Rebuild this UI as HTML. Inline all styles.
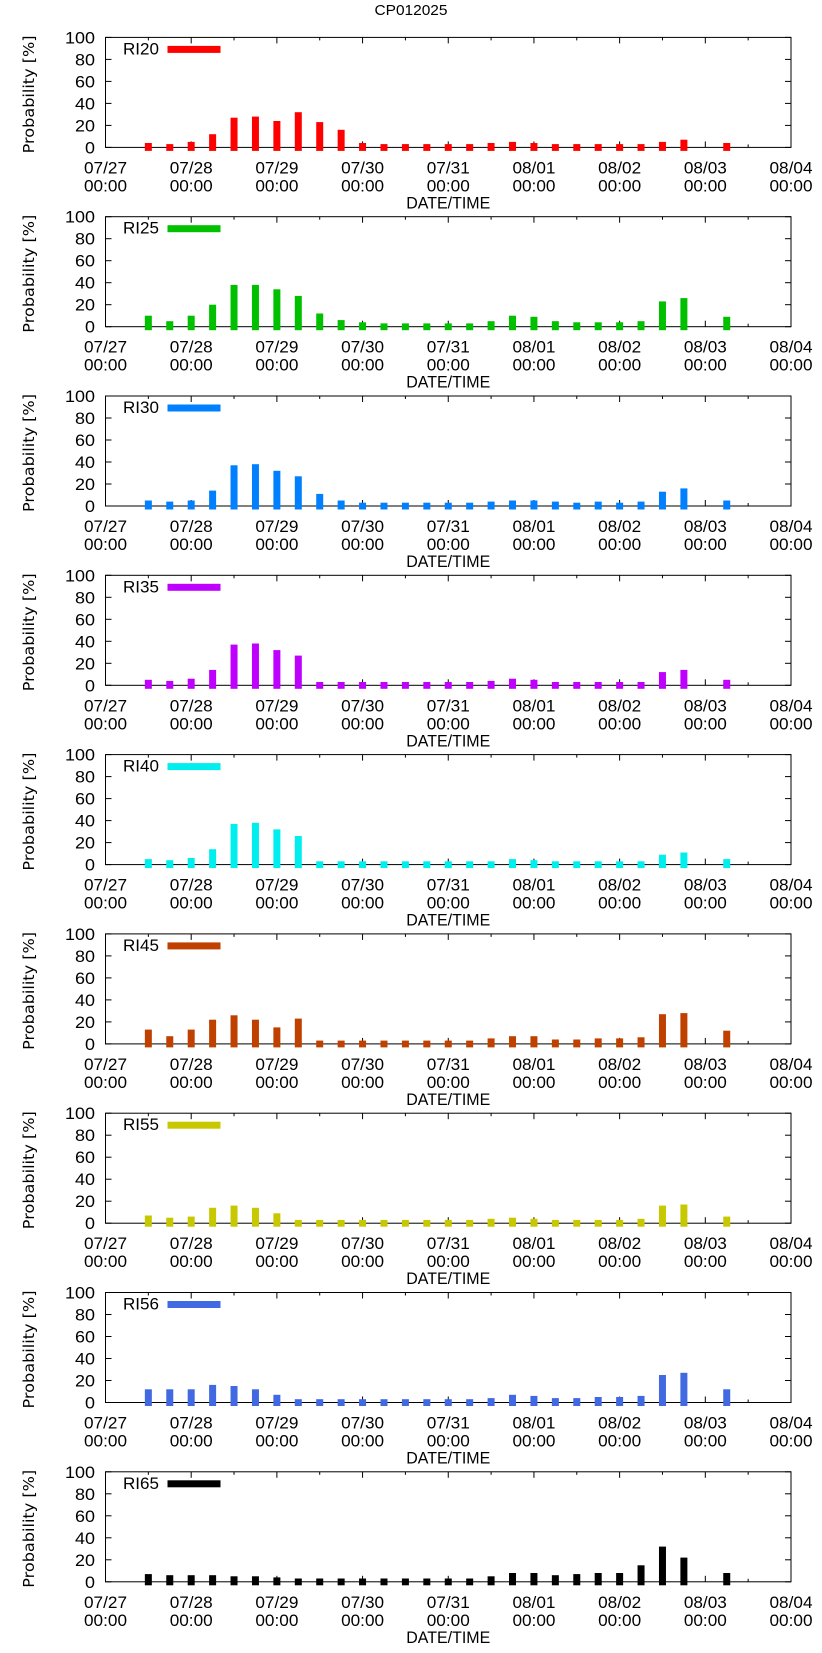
<!DOCTYPE html>
<html><head><meta charset="utf-8">
<style>
html,body{margin:0;padding:0;background:#fff;}
svg{display:block;}
text{font-family:"Liberation Sans Narrow","Liberation Sans",sans-serif;fill:#000;}
</style></head>
<body>
<svg id="chart" width="822" height="1653" viewBox="0 0 822 1653" xmlns="http://www.w3.org/2000/svg">
<text x="411" y="15" text-anchor="middle" font-size="15" textLength="73" lengthAdjust="spacingAndGlyphs">CP012025</text>
</svg>
<script>
// hours since 07/27 00:00 for each bar
const barHours = [12,18,24,30,36,42,48,54,60,66,72,78,84,90,96,102,108,114,120,126,132,138,144,150,156,162,174];
const dayLabels = ["07/27","07/28","07/29","07/30","07/31","08/01","08/02","08/03","08/04"];
const yTicks = [0,20,40,60,80,100];
const seriesNames = ["RI20","RI25","RI30","RI35","RI40","RI45","RI55","RI56","RI65"];
const seriesColors = ["#ff0000","#00c000","#0080ff","#c000ff","#00eeee","#c04000","#c8c800","#4169e1","#000000"];
const ri20 = [4,3,5,12,27,28,24,32,23,16,4,3,3,3,3,3,4,5,4,3,3,3,3,3,5,7,4];
const ri25 = [10,5,10,20,38,38,34,28,12,6,4,3,3,3,3,3,5,10,9,5,4,4,4,5,23,26,9];
const ri30 = [5,4,5,14,37,38,32,27,11,5,3,3,3,3,3,3,4,5,5,4,3,4,3,4,13,16,5];
const ri35 = [5,4,6,14,37,38,32,27,3,3,3,3,3,3,3,3,4,6,5,3,3,3,3,3,12,14,5];
const ri40 = [5,4,6,14,37,38,32,26,3,3,3,3,3,3,3,3,3,5,4,3,3,3,3,3,9,11,5];
const ri45 = [13,7,13,22,26,22,15,23,3,3,3,3,3,3,3,3,5,7,7,4,4,5,5,6,27,28,12];
const ri55 = [7,5,6,14,16,14,9,3,3,3,3,3,3,3,3,3,4,5,4,3,3,3,3,4,16,17,6];
const ri56 = [12,12,12,16,15,12,7,3,3,3,3,3,3,3,3,3,4,7,6,4,4,5,5,6,25,27,12];
const ri65 = [7,6,6,6,5,5,4,3,3,3,3,3,3,3,3,3,5,8,8,6,7,8,8,15,32,22,8];
const allSeries = [ri20,ri25,ri30,ri35,ri40,ri45,ri55,ri56,ri65];

const NS = "http://www.w3.org/2000/svg";
const svg = document.getElementById("chart");
const L = 105.5, R = 791, PH = 110, TOP0 = 37.4, STEP = 179.3;
const xScale = h => L + (R - L) * h / 192;
function mk(tag, attrs, parent){
  const e = document.createElementNS(NS, tag);
  for (const k in attrs) e.setAttribute(k, attrs[k]);
  (parent || svg).appendChild(e);
  return e;
}
seriesNames.forEach((name, i) => {
  const top = TOP0 + STEP * i, bot = top + PH;
  const yScale = v => bot - PH * v / 100;
  const g = mk("g", {});
  
  
  // frame
  const fr = mk("rect", {x: L, y: top, width: R - L, height: PH, fill: "none", stroke: "#000", "stroke-width": 1}, g);
  
  
  // y ticks
  yTicks.forEach(t => {
    const y = yScale(t);
    mk("line", {x1: L, x2: L + 6, y1: y, y2: y, stroke: "#000"}, g);
    mk("line", {x1: R, x2: R - 6, y1: y, y2: y, stroke: "#000"}, g);
    const s = String(t);
    const tx = mk("text", {x: 95, y: y + 6, "text-anchor": "end", "font-size": 17, textLength: s.length * 10, lengthAdjust: "spacingAndGlyphs"}, g);
    tx.textContent = s;
    
    
  });
  // x ticks
  for (let h = 0; h <= 192; h += 12) {
    const x = xScale(h), len = (h % 24 === 0) ? 6 : 3;
    mk("line", {x1: x, x2: x, y1: bot, y2: bot - len, stroke: "#000"}, g);
    mk("line", {x1: x, x2: x, y1: top, y2: top + len, stroke: "#000"}, g);
  }
  // bars (drawn over ticks)
  allSeries[i].forEach((v, j) => {
    const x = xScale(barHours[j]);
    const r = mk("rect", {x: x - 3.5, y: yScale(v), width: 7, height: bot + 3.5 - yScale(v), fill: seriesColors[i]}, g);
    
    
  });
  dayLabels.forEach((d, k) => {
    const x = xScale(k * 24);
    const t1 = mk("text", {x: x, y: top + 136, "text-anchor": "middle", "font-size": 17, textLength: 43, lengthAdjust: "spacingAndGlyphs"}, g);
    t1.textContent = d;
    
    
    const t2 = mk("text", {x: x, y: top + 154, "text-anchor": "middle", "font-size": 17, textLength: 43, lengthAdjust: "spacingAndGlyphs"}, g);
    t2.textContent = "00:00";
    
    
  });
  const xt = mk("text", {x: (L + R) / 2, y: top + 171, "text-anchor": "middle", "font-size": 17, textLength: 84, lengthAdjust: "spacingAndGlyphs"}, g);
  xt.textContent = "DATE/TIME";
  
  
  const cy = top + PH / 2 + 2;
  const yt = mk("text", {x: 0, y: 0, "text-anchor": "middle", "font-size": 15, textLength: 118, lengthAdjust: "spacingAndGlyphs", transform: "translate(34," + cy + ") rotate(-90)", style: "font-family:'DejaVu Sans','Liberation Sans',sans-serif"}, g);
  yt.textContent = "Probability [%]";
  
  
  // legend
  const lt = mk("text", {x: 159, y: top + 17, "text-anchor": "end", "font-size": 17, textLength: 36, lengthAdjust: "spacingAndGlyphs"}, g);
  lt.textContent = name;
  
  
  const ls = mk("rect", {x: 167.5, y: top + 8.5, width: 53, height: 7, fill: seriesColors[i]}, g);
  
  
});
</script>
</body></html>
